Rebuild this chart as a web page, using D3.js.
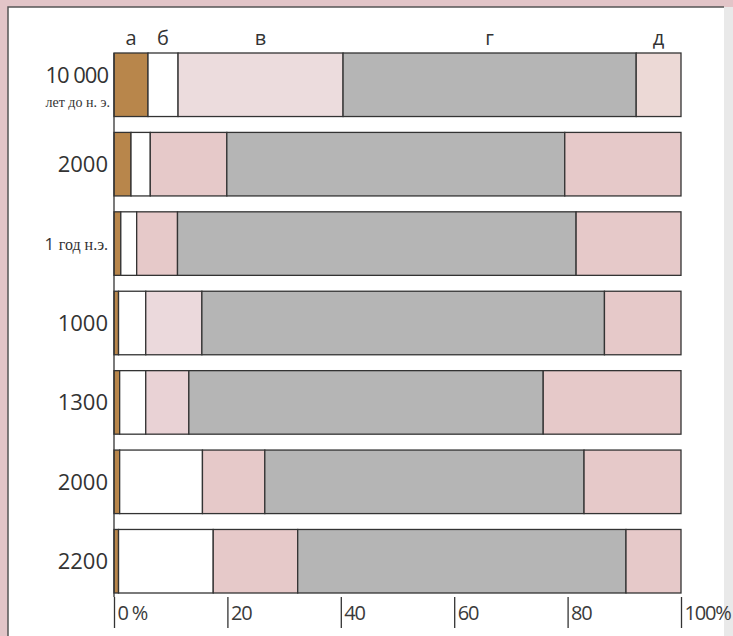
<!DOCTYPE html>
<html><head><meta charset="utf-8">
<script src="https://cdn.jsdelivr.net/npm/d3@7"></script>
<style>html,body{margin:0;padding:0;background:#fff;}svg{display:block;}</style>
</head><body>
<script>
// ---- data ----
const categories = ["10 000", "2000", "1 год н.э.", "1000", "1300", "2000", "2200"];
const seriesNames = ["а", "б", "в", "г", "д"];
const seriesA = [6.0, 3.0, 1.2, 0.8, 1.0, 1.0, 0.8];
const seriesB = [5.3, 3.4, 2.8, 4.8, 4.6, 14.6, 16.7];
const seriesV = [29.1, 13.5, 7.2, 9.9, 7.6, 11.0, 14.9];
const seriesG = [51.7, 59.6, 70.3, 71.0, 62.5, 56.3, 57.9];
const seriesD = [7.9, 20.5, 18.5, 13.5, 24.3, 17.1, 9.7];
const tickValues = [0, 20, 40, 60, 80, 100];
const tickLabels = ["0 %", "20", "40", "60", "80", "100%"];

// ---- styles ----
const W = 733, H = 636;
const segColors = ["#b8864b", "#ffffff", "#e6c9c9", "#b5b5b5", "#e6c9c9"];
const lightPinkRows = {0: "#ecdcdd", 3: "#ebd9dc", 4: "#e9d2d5"};
const lightD = {0: "#ecd9d6"};
const ink = "#333";

const svg = d3.select("body").append("svg").attr("width", W).attr("height", H);

// frame
svg.append("rect").attr("width", W).attr("height", H).attr("fill", "#e2c5c8");
svg.append("rect").attr("x", 8).attr("y", 7).attr("width", 716).attr("height", H).attr("fill", "#fff");
svg.append("rect").attr("x", 724).attr("y", 7).attr("width", 9).attr("height", H).attr("fill", "#e9e9e9");
svg.append("path").attr("d", `M8,${H} V7 H724`).attr("fill", "none").attr("stroke", "#555").attr("stroke-width", 1.5);

const x = d3.scaleLinear().domain([0, 100]).range([114, 681]);
const y = d3.scaleBand().domain(d3.range(categories.length)).range([53, 593]).paddingInner(0.2).paddingOuter(0);

const series = [seriesA, seriesB, seriesV, seriesG, seriesD];
const rows = categories.map((c, i) => {
  let acc = 0;
  return series.map((s, k) => {
    const x0 = acc; acc += s[i];
    return {row: i, k, x0, x1: acc};
  });
});

const g = svg.append("g");
g.selectAll("g.row").data(rows).join("g").attr("class", "row")
  .selectAll("rect").data(d => d).join("rect")
  .attr("x", d => x(d.x0))
  .attr("y", d => y(d.row))
  .attr("width", d => x(d.x1) - x(d.x0))
  .attr("height", y.bandwidth())
  .attr("fill", d => {
    if (d.k === 2 && lightPinkRows[d.row]) return lightPinkRows[d.row];
    if (d.k === 4 && lightD[d.row]) return lightD[d.row];
    return segColors[d.k];
  })
  .attr("stroke", ink).attr("stroke-width", 1.3);

// header letters above first row
svg.selectAll("text.hdr").data(rows[0]).join("text").attr("class", "hdr")
  .attr("x", d => (x(d.x0) + x(d.x1)) / 2)
  .attr("y", 45)
  .attr("text-anchor", "middle")
  .attr("font-family", "'Open Sans', sans-serif")
  .attr("font-size", 20)
  .attr("fill", ink)
  .text(d => seriesNames[d.k]);

// category labels
const lab = svg.selectAll("text.cat").data(categories).join("text").attr("class", "cat")
  .attr("x", 108)
  .attr("text-anchor", "end")
  .attr("font-family", "'Open Sans', sans-serif")
  .attr("fill", ink);
lab.each(function(d, i) {
  const t = d3.select(this);
  const cy = y(i) + y.bandwidth() / 2;
  if (i === 0) {
    t.attr("y", cy - 2).attr("font-size", 22).attr("letter-spacing", -1).text(d);
    svg.append("text").attr("x", 110).attr("y", cy + 22).attr("text-anchor", "end")
      .attr("font-family", "'Liberation Serif', serif").attr("font-size", 14).attr("fill", ink)
      .text("лет до н. э.");
  } else if (d.startsWith("1 год")) {
    t.attr("y", cy + 6).attr("font-size", 17);
    t.append("tspan").text("1 ");
    t.append("tspan").attr("font-family", "'Liberation Serif', serif").attr("font-size", 16).text(d.slice(2));
  } else {
    t.attr("y", cy + 8).attr("font-size", 22).text(d);
  }
});

// left axis line
svg.append("line").attr("x1", x(0)).attr("x2", x(0)).attr("y1", y(0)).attr("y2", 597)
  .attr("stroke", ink).attr("stroke-width", 1.3);

// bottom axis
const axis = d3.axisBottom(x).tickValues(tickValues).tickSize(31).tickFormat((d, i) => tickLabels[i]);
const ag = svg.append("g").attr("transform", "translate(0,597)").call(axis);
ag.select(".domain").remove();
ag.selectAll(".tick line").attr("stroke", ink).attr("stroke-width", 1.3);
ag.selectAll(".tick text")
  .attr("text-anchor", "start").attr("x", 3).attr("y", 9).attr("dy", "0.71em")
  .attr("font-family", "'Open Sans', sans-serif").attr("font-weight", 400)
  .attr("font-size", 20).attr("letter-spacing", -1.2).attr("fill", "#3a3a3a");
</script>
</body></html>
